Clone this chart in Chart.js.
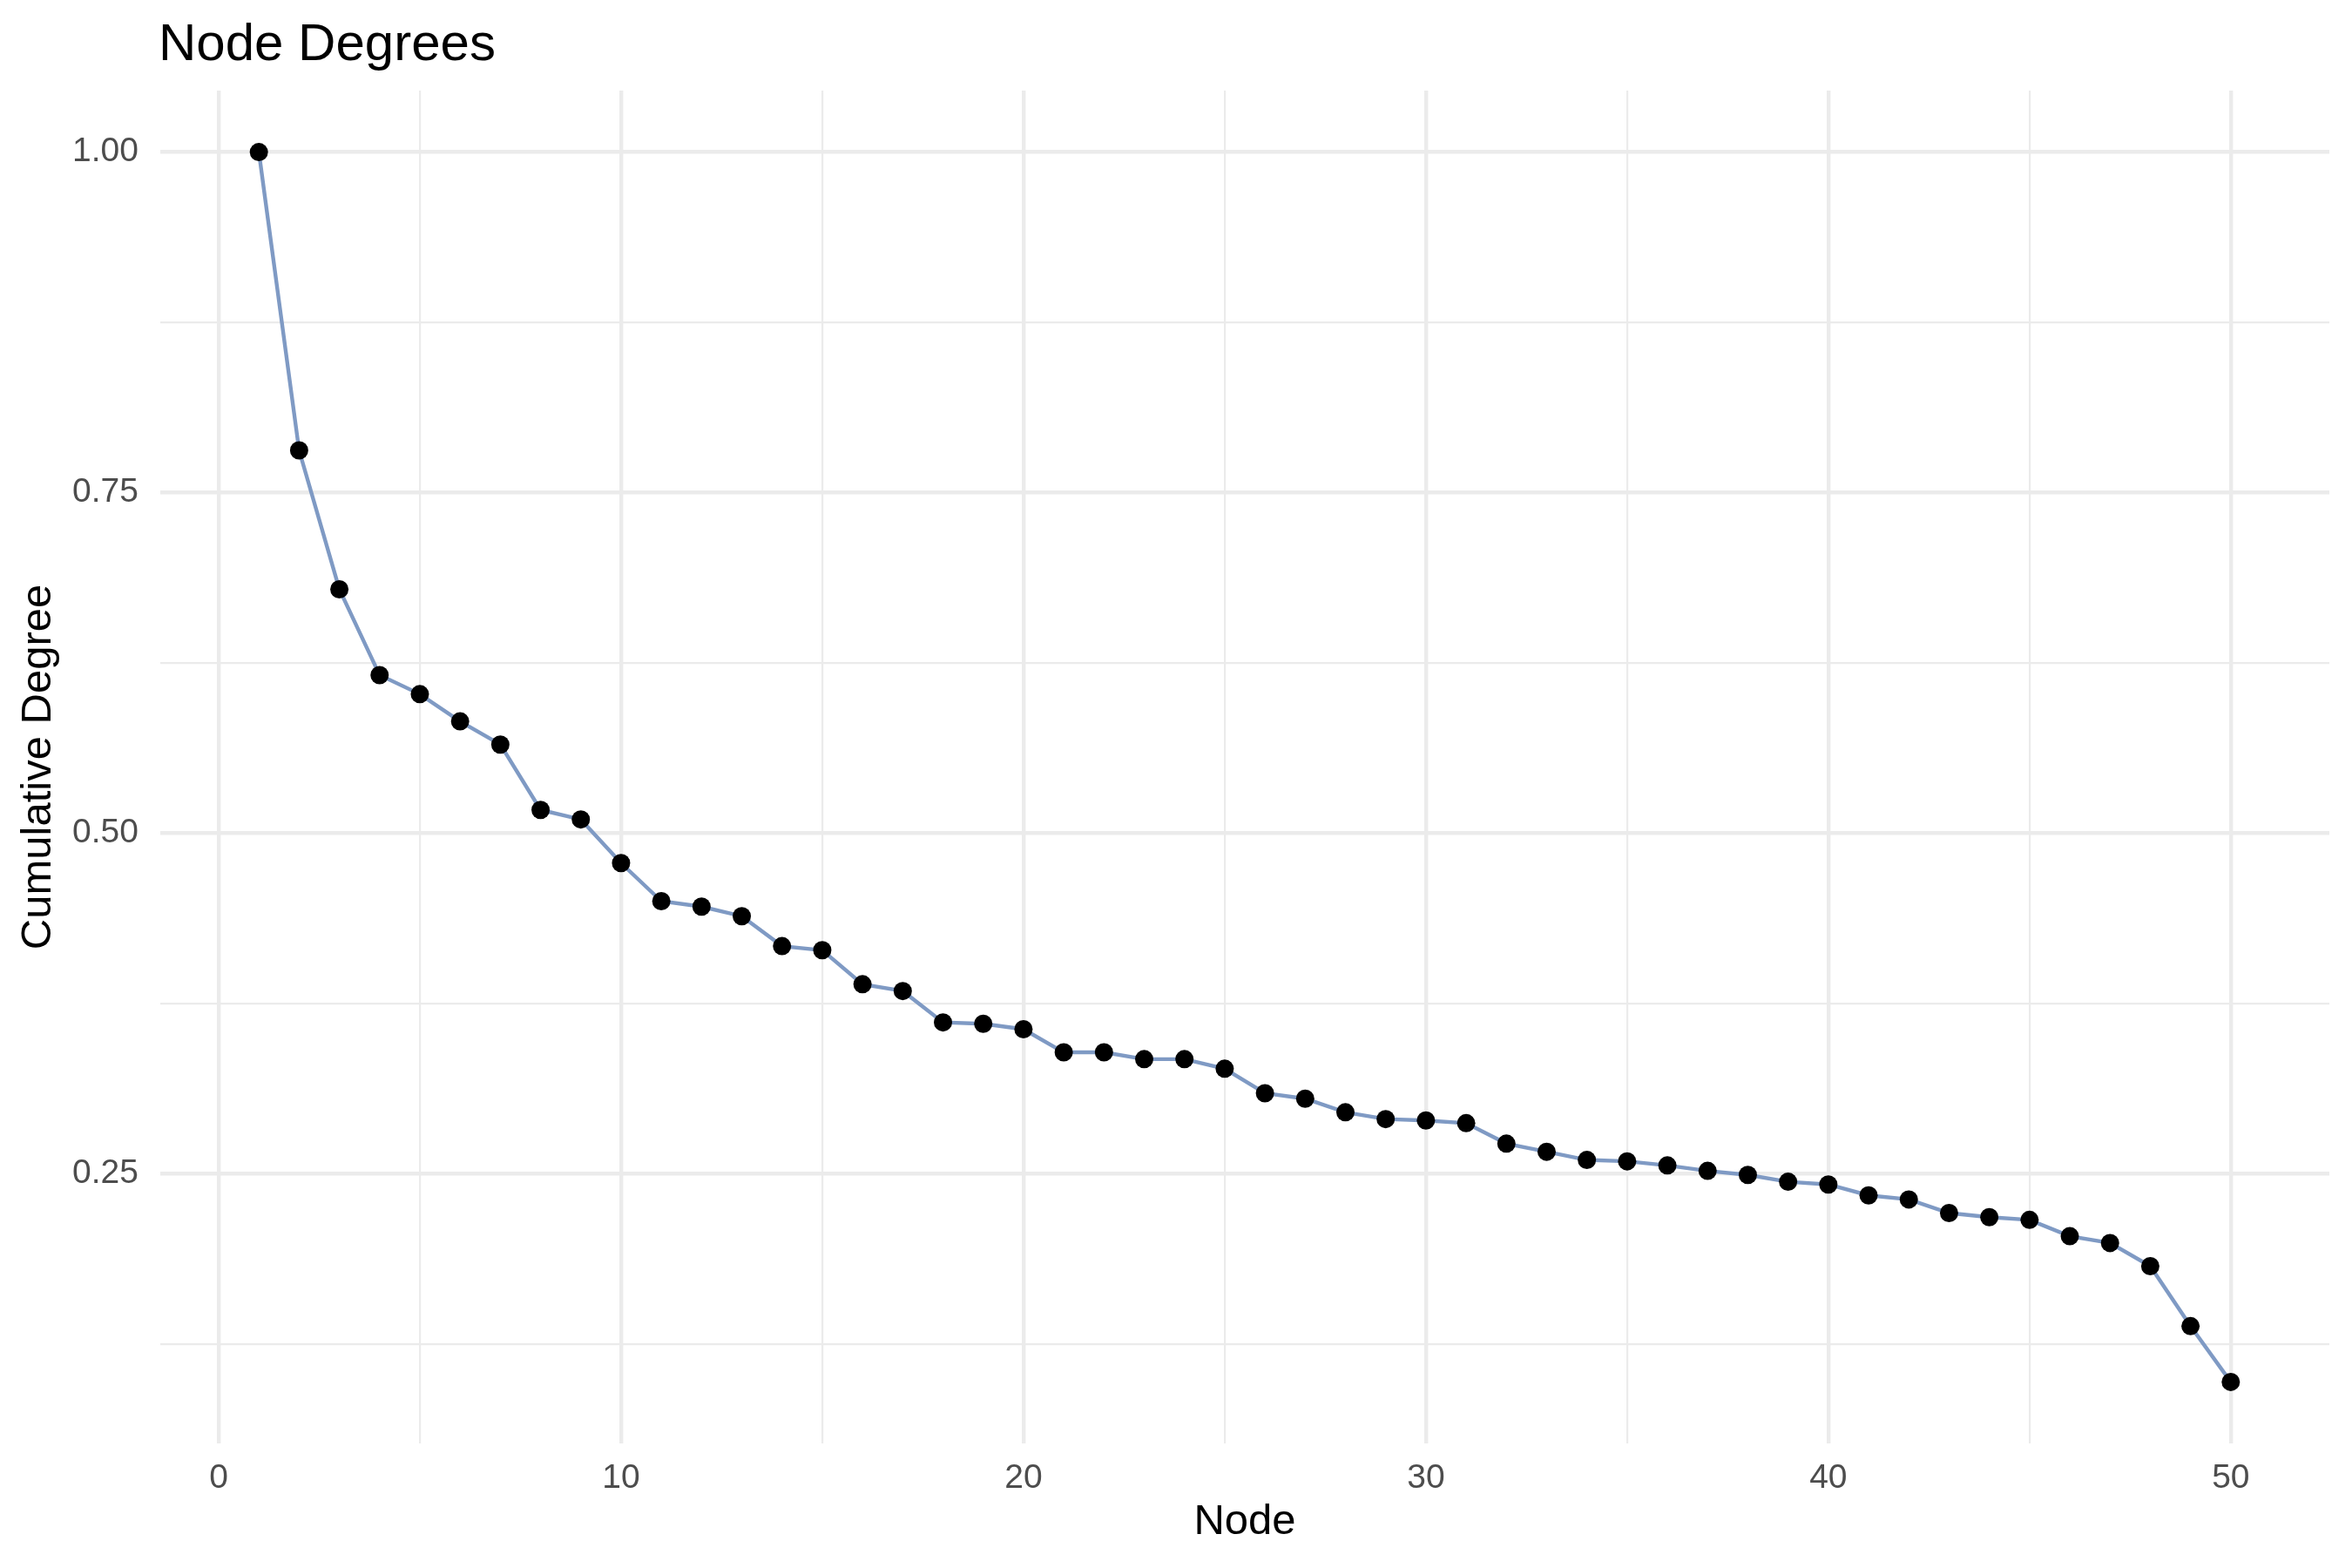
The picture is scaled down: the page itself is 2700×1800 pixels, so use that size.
<!DOCTYPE html>
<html>
<head>
<meta charset="utf-8">
<title>Node Degrees</title>
<script src="https://cdn.jsdelivr.net/npm/chart.js@4.4.1/dist/chart.umd.min.js"></script>
<style>
  body { margin: 0; background: #ffffff; }
  canvas { display: block; }
</style>
</head>
<body>
<canvas id="js-chart" width="2700" height="1800"></canvas>
<script>
const NODES = [
  1, 2, 3, 4, 5, 6, 7, 8, 9, 10,
  11, 12, 13, 14, 15, 16, 17, 18, 19, 20,
  21, 22, 23, 24, 25, 26, 27, 28, 29, 30,
  31, 32, 33, 34, 35, 36, 37, 38, 39, 40,
  41, 42, 43, 44, 45, 46, 47, 48, 49, 50,
];

const CUMULATIVE_DEGREE = [
  1.0, 0.781, 0.679, 0.616, 0.602, 0.582, 0.565, 0.517, 0.51, 0.478,
  0.45, 0.446, 0.439, 0.417, 0.414, 0.389, 0.384, 0.361, 0.36, 0.356,
  0.339, 0.339, 0.334, 0.334, 0.327, 0.309, 0.305, 0.295, 0.29, 0.289,
  0.287, 0.272, 0.266, 0.26, 0.259, 0.256, 0.252, 0.249, 0.244, 0.242,
  0.234, 0.231, 0.221, 0.218, 0.216, 0.204, 0.199, 0.182, 0.138, 0.097,
];

// major ticks get labels, minor ones only a thin grid line
const X_TICKS = [0, 5, 10, 15, 20, 25, 30, 35, 40, 45, 50];
const X_LABELS = [0, 10, 20, 30, 40, 50];
const Y_TICKS = [0.125, 0.25, 0.375, 0.5, 0.625, 0.75, 0.875, 1.0];
const Y_LABELS = ["0.25", "0.50", "0.75", "1.00"];

const GRID_COLOR = "#EBEBEB";
const FONT = "'Liberation Sans', Arial, Helvetica, sans-serif";

function expandRange(values, mult) {
  const lo = Math.min(...values);
  const hi = Math.max(...values);
  const pad = (hi - lo) * mult;
  return { min: lo - pad, max: hi + pad };
}

function isMajorX(value) {
  return X_LABELS.includes(value);
}

function isMajorY(value) {
  return Y_LABELS.includes(value.toFixed(2));
}

const plotTitle = {
  id: "plotTitle",
  afterDraw(chart) {
    const ctx = chart.ctx;
    ctx.save();
    ctx.fillStyle = "#000000";
    ctx.font = "60px " + FONT;
    ctx.textAlign = "left";
    ctx.textBaseline = "alphabetic";
    ctx.fillText("Node Degrees", 182, 69);
    ctx.restore();
  },
};

function drawChart(nodes, degrees) {
  const context = document.getElementById("js-chart").getContext("2d");
  const xRange = expandRange(nodes, 0.05);
  const yRange = expandRange(degrees, 0.05);

  const degreeChart = new Chart(context, {
    type: "line",
    data: {
      datasets: [
        {
          label: "Cumulative Degree",
          data: nodes.map((n, i) => ({ x: n, y: degrees[i] })),
          borderColor: "rgb(127, 154, 196)",
          borderWidth: 4.4,
          backgroundColor: "#000000",
          pointBackgroundColor: "#000000",
          pointBorderWidth: 0,
          pointRadius: 10.5,
          pointHoverRadius: 10.5,
          tension: 0,
          fill: false,
        },
      ],
    },
    options: {
      responsive: false,
      devicePixelRatio: 1,
      animation: false,
      layout: { padding: { top: 104, right: 26, bottom: 0, left: 0 } },
      plugins: {
        legend: { display: false },
        tooltip: { enabled: false },
      },
      scales: {
        x: {
          type: "linear",
          min: xRange.min,
          max: xRange.max,
          afterBuildTicks: (scale) => {
            scale.ticks = X_TICKS.map((v) => ({ value: v }));
          },
          afterFit: (scale) => {
            scale.height = 143;
          },
          border: { display: false },
          grid: {
            color: GRID_COLOR,
            drawTicks: false,
            lineWidth: (ctx) => (ctx.tick && isMajorX(ctx.tick.value) ? 4.4 : 2.2),
          },
          ticks: {
            padding: 17,
            color: "#4D4D4D",
            font: { family: FONT, size: 39 },
            maxRotation: 0,
            autoSkip: false,
            callback: (value) => (isMajorX(value) ? String(value) : ""),
          },
          title: {
            display: true,
            text: "Node",
            color: "#000000",
            font: { family: FONT, size: 49, lineHeight: 1 },
            padding: { top: 0, bottom: 28 },
          },
        },
        y: {
          type: "linear",
          min: yRange.min,
          max: yRange.max,
          afterBuildTicks: (scale) => {
            scale.ticks = Y_TICKS.map((v) => ({ value: v }));
          },
          afterFit: (scale) => {
            scale.width = 184;
          },
          border: { display: false },
          grid: {
            color: GRID_COLOR,
            drawTicks: false,
            lineWidth: (ctx) => (ctx.tick && isMajorY(ctx.tick.value) ? 4.4 : 2.2),
          },
          ticks: {
            padding: 25,
            color: "#4D4D4D",
            font: { family: FONT, size: 39 },
            autoSkip: false,
            callback: (value) => (isMajorY(value) ? value.toFixed(2) : ""),
          },
          title: {
            display: true,
            text: "Cumulative Degree",
            color: "#000000",
            font: { family: FONT, size: 49, lineHeight: 1 },
            padding: { top: 20, bottom: 0 },
          },
        },
      },
    },
    plugins: [plotTitle],
  });
  return degreeChart;
}

drawChart(NODES, CUMULATIVE_DEGREE);
</script>
</body>
</html>
